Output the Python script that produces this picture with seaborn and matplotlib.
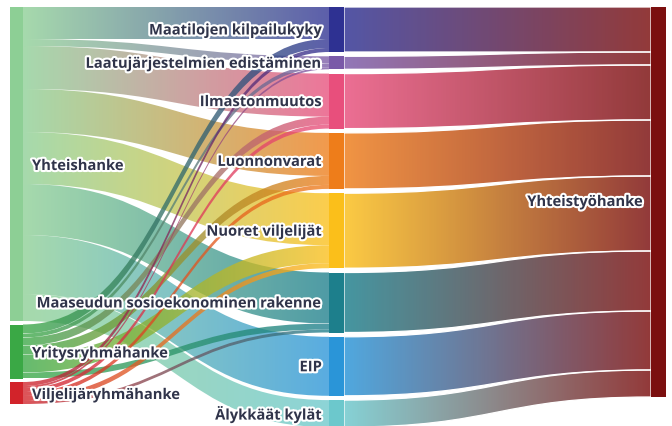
import numpy as np
import matplotlib.pyplot as plt
import matplotlib.patheffects as pe
from matplotlib.path import Path
from matplotlib.patches import PathPatch
import seaborn as sns

# Hanketyypit (vasen sarake), teemat (keskisarake), kohde (oikea sarake)
sources = ["Yhteishanke", "Yritysryhmähanke", "Viljelijäryhmähanke"]
themes = ["Maatilojen kilpailukyky", "Laatujärjestelmien edistäminen", "Ilmastonmuutos",
          "Luonnonvarat", "Nuoret viljelijät", "Maaseudun sosioekonominen rakenne",
          "EIP", "Älykkäät kylät"]
target = "Yhteistyöhanke"

# virtaukset hanketyypistä teemaan
yhteis = [32, 7, 43, 43, 52, 51, 59, 27]
yritys = [9, 4, 8, 9, 18, 6, 0, 0]
viljelija = [4, 2, 4, 4, 5, 3, 0, 0]

source_colors = ["#8dcf95", "#3aa845", "#d2232a"]
theme_colors = ["#2e3192", "#7a5aa8", "#e84f7c", "#ee7d1a", "#fbbf1a",
                "#1d7f8c", "#2a95d8", "#6cc8cc"]
target_color = "#7b0f0f"

sns.set_theme(style="white")
plt.rcParams['font.family'] = ['Open Sans', 'DejaVu Sans']

fig = plt.figure(figsize=(6.72, 4.27), dpi=100)
ax = fig.add_axes([0, 0, 1, 1])

flows = np.array([yhteis, yritys, viljelija], dtype=float)
src_tot = flows.sum(axis=1)
mid_tot = flows.sum(axis=0)

top = 8
gap_left, gap_mid = 3.5, 4.3
xl = (10, 23)
xm = (329, 344)
xr = (651, 666)

left_y = top + np.concatenate([[0], np.cumsum(src_tot + gap_left)[:-1]])
mid_y = top + np.concatenate([[0], np.cumsum(mid_tot + gap_mid)[:-1]])
right_y = top + np.concatenate([[0], np.cumsum(mid_tot)[:-1]])


def ribbon(x0, x1, y0, y1, w, c0, c1, alpha=0.78, edge=False):
    xc = (x0 + x1) / 2
    verts = [(x0, y0), (xc, y0), (xc, y1), (x1, y1),
             (x1, y1 + w), (xc, y1 + w), (xc, y0 + w), (x0, y0 + w), (x0, y0)]
    codes = [Path.MOVETO, Path.CURVE4, Path.CURVE4, Path.CURVE4,
             Path.LINETO, Path.CURVE4, Path.CURVE4, Path.CURVE4, Path.CLOSEPOLY]
    patch = PathPatch(Path(verts, codes), facecolor="none",
                      edgecolor="white" if edge else "none", lw=0.9, zorder=3)
    ax.add_patch(patch)
    grad = np.array(sns.blend_palette([c0, c1], n_colors=128))[None, :, :3]
    ys = [y0, y1, y0 + w, y1 + w]
    im = ax.imshow(grad, extent=[x0, x1, max(ys), min(ys)], aspect="auto",
                   alpha=alpha, interpolation="bilinear", zorder=2)
    im.set_clip_path(patch)


# vasen -> keski
src_off = left_y.copy()
mid_off = mid_y.copy()
for s in range(len(sources)):
    for t in range(len(themes)):
        w = flows[s, t]
        if w <= 0:
            continue
        ribbon(xl[1], xm[0], src_off[s], mid_off[t], w,
               source_colors[s], theme_colors[t])
        src_off[s] += w
        mid_off[t] += w

# keski -> oikea
for t in range(len(themes)):
    ribbon(xm[1], xr[0], mid_y[t], right_y[t], mid_tot[t],
           theme_colors[t], target_color, alpha=0.82, edge=True)

# solmut
ax.bar(xl[0], src_tot, bottom=left_y, width=xl[1] - xl[0], align="edge",
       color=source_colors, linewidth=0, zorder=4)
ax.bar(xm[0], mid_tot, bottom=mid_y, width=xm[1] - xm[0], align="edge",
       color=theme_colors, linewidth=0, zorder=4)
ax.bar(xr[0], mid_tot.sum(), bottom=top, width=xr[1] - xr[0], align="edge",
       color=target_color, linewidth=0, zorder=4)

stroke = [pe.withStroke(linewidth=3, foreground="white")]
txt = dict(fontsize=10.6, fontweight="bold", color="#30344a",
           va="center", path_effects=stroke, zorder=6)
for name, y0, v in zip(sources, left_y, src_tot):
    ax.text(xl[1] + 9, y0 + v / 2 + 2, name, ha="left", **txt)
for name, y0, v in zip(themes, mid_y, mid_tot):
    ax.text(xm[0] - 7, y0 + v / 2 + 1, name, ha="right", **txt)
ax.text(xr[0] - 8, top + mid_tot.sum() / 2, target, ha="right", **txt)

ax.set_xlim(0, 672)
ax.set_ylim(427, 0)
ax.axis("off")

fig.savefig("out.png", dpi=100)
